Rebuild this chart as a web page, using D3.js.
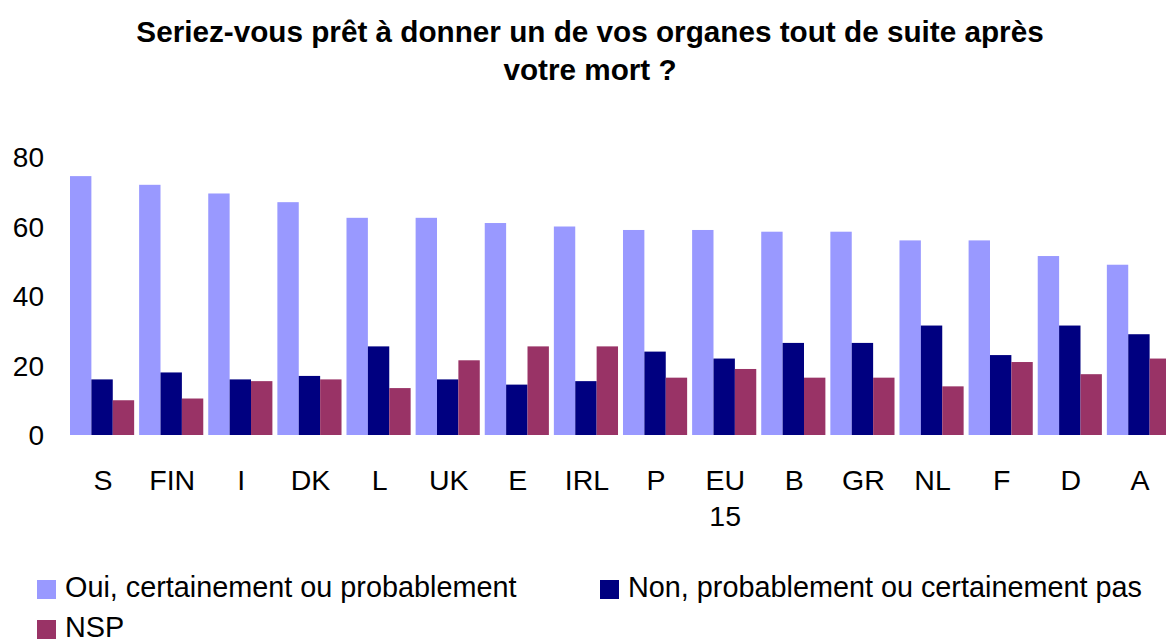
<!DOCTYPE html>
<html><head><meta charset="utf-8">
<script src="https://cdn.jsdelivr.net/npm/d3@7"></script>
<style>body{margin:0;background:#fff}svg{display:block}text{font-family:"Liberation Sans",Arial,sans-serif;fill:#000}</style>
</head><body>
<svg id="c" width="1166" height="642"></svg>
<script>
const categories = ["S","FIN","I","DK","L","UK","E","IRL","P","EU 15","B","GR","NL","F","D","A"];
const seriesNames = ["Oui, certainement ou probablement","Non, probablement ou certainement pas","NSP"];
const oui = [74.5,72,69.5,67,62.5,62.5,61,60,59,59,58.5,58.5,56,56,51.5,49];
const non = [16,18,16,17,25.5,16,14.5,15.5,24,22,26.5,26.5,31.5,23,31.5,29];
const nsp = [10,10.5,15.5,16,13.5,21.5,25.5,25.5,16.5,19,16.5,16.5,14,21,17.5,22];
const yTicks = [0,20,40,60,80];
const colors = ["#9999FF","#000080","#993366"];
const titleLines = ["Seriez-vous prêt à donner un de vos organes tout de suite après","votre mort ?"];

const svg = d3.select("#c");
const series = [oui, non, nsp];

const x = d3.scaleBand().domain(categories).range([70, 1171]).paddingInner(0.072).paddingOuter(0);
const xs = d3.scaleBand().domain(d3.range(3)).range([0, x.bandwidth()]);
const y = d3.scaleLinear().domain([0, 80]).range([435, 157]);

// title
svg.append("g").selectAll("text").data(titleLines).join("text")
  .attr("x", 590).attr("y", (d,i) => 42 + i*38)
  .attr("text-anchor","middle").attr("font-weight","bold").attr("font-size", 29.7)
  .text(d => d);

// y axis labels
svg.append("g").selectAll("text").data(yTicks).join("text")
  .attr("x", 44).attr("y", d => y(d)).attr("dy","0.36em")
  .attr("text-anchor","end").attr("font-size", 28).text(d => d);

// bars
const g = svg.append("g");
categories.forEach((c, i) => {
  series.forEach((s, k) => {
    g.append("rect")
      .attr("x", x(c) + xs(k)).attr("width", xs.bandwidth())
      .attr("y", y(s[i])).attr("height", y(0) - y(s[i]))
      .attr("fill", colors[k]);
  });
});

// category labels
const cl = svg.append("g").selectAll("text").data(categories).join("text")
  .attr("x", d => x(d) + x.bandwidth()/2 + 1).attr("y", 490)
  .attr("text-anchor","middle").attr("font-size", 28.5);
cl.each(function(d){
  const parts = d.split(" ");
  d3.select(this).selectAll("tspan").data(parts).join("tspan")
    .attr("x", x(d) + x.bandwidth()/2 + 1).attr("dy", (p,j) => j ? 36 : 0).text(p => p);
});

// legend
const legPos = [[37,580],[600,580],[37,620]];
const lg = svg.append("g");
seriesNames.forEach((n, k) => {
  lg.append("rect").attr("x", legPos[k][0]).attr("y", legPos[k][1]).attr("width", 19).attr("height", 19).attr("fill", colors[k]);
  lg.append("text").attr("x", legPos[k][0] + 28).attr("y", legPos[k][1] + 17).attr("font-size", 28.8).text(n);
});
</script>
</body></html>
